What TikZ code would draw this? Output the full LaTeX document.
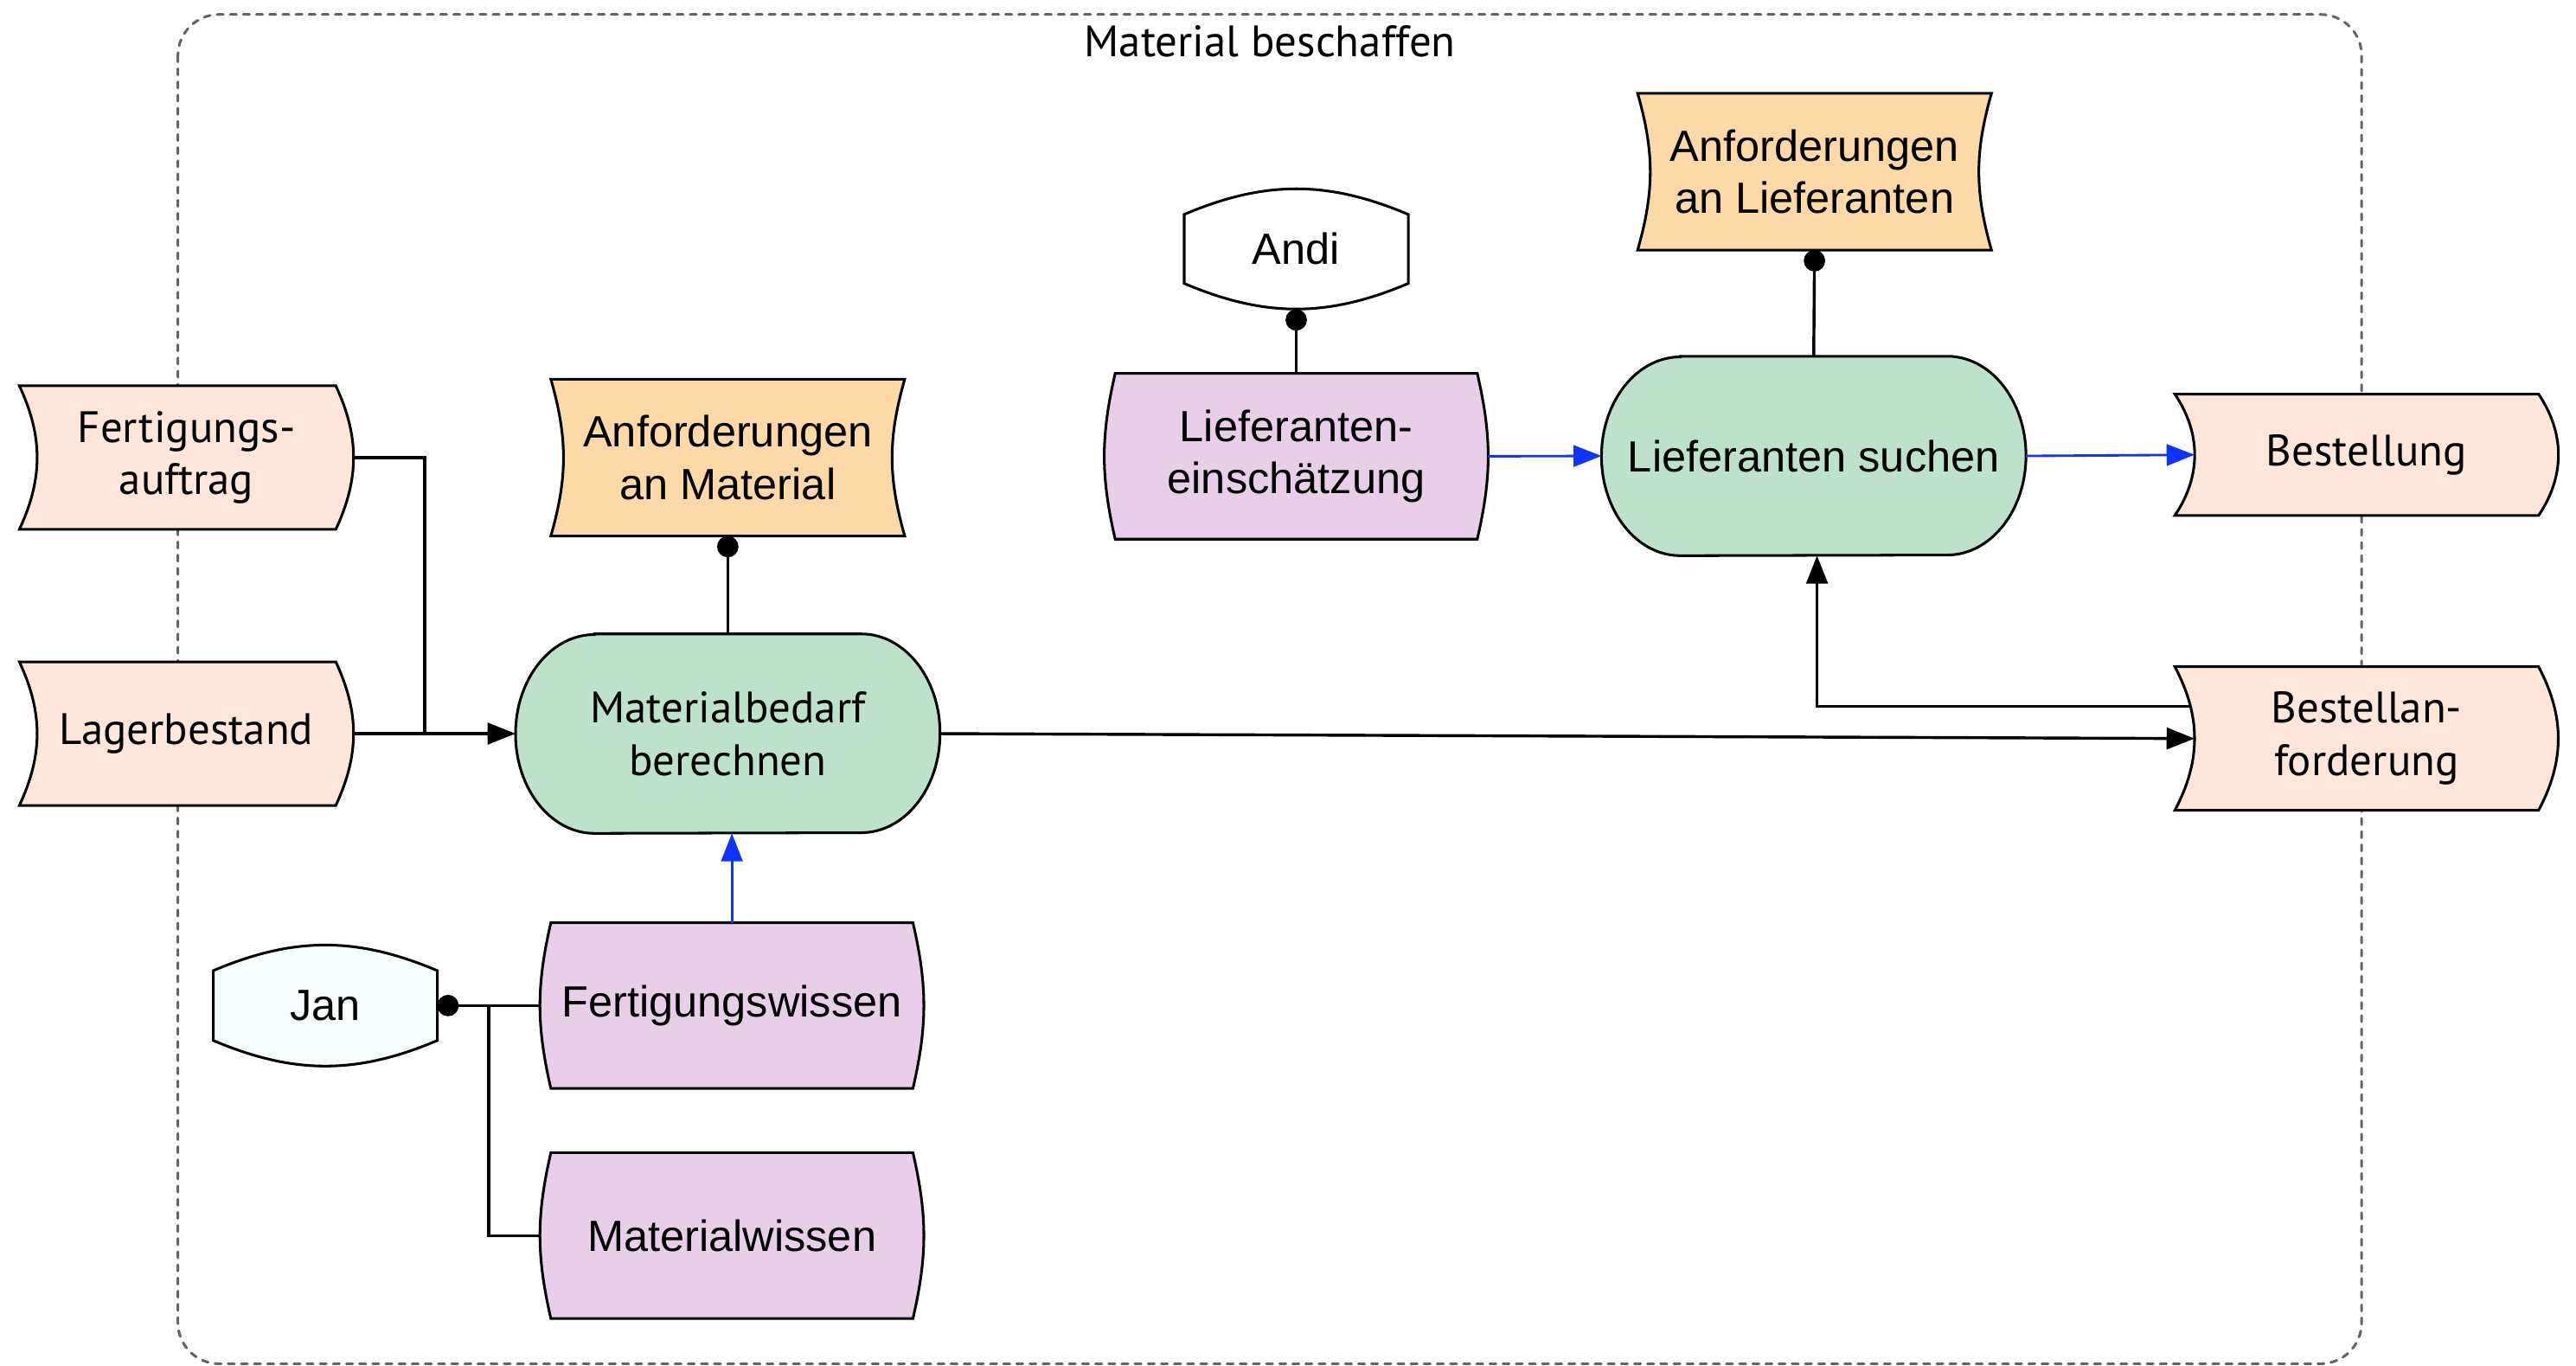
\documentclass[tikz,border=0pt]{standalone}
\usepackage{fontspec}
\setmainfont{Liberation Sans}
\newfontfamily\myriadlike{PT Sans}
\definecolor{datapink}{RGB}{254,230,219}
\definecolor{reqorange}{RGB}{253,217,167}
\definecolor{knowpurple}{RGB}{233,206,234}
\definecolor{funcgreen}{RGB}{189,225,202}
\definecolor{janwhite}{RGB}{247,252,252}
\definecolor{flowblue}{RGB}{16,52,255}
\definecolor{framegray}{RGB}{100,100,100}
\usetikzlibrary{calc}
\usetikzlibrary{arrows.meta}
\usetikzlibrary{backgrounds}

\begin{document}
\begin{tikzpicture}[x=1pt, y=1pt,
  every node/.style={align=center, inner sep=0pt, font=\fontsize{26.6}{32}\selectfont},
  myr/.style={font=\myriadlike\fontsize{26.8}{32}\selectfont},
  shp/.style={draw=black, line width=1.6pt},
  conn/.style={line width=1.8pt},
  arr/.style={-{Triangle[length=17pt,width=13pt]}},
  dot/.style={{Circle[length=13pt]}-},
  flow/.style={flowblue, line width=1.5pt, -{Triangle[length=17pt,width=13pt]}}]
  \useasboundingbox (0,0) rectangle (1568,-831);

  \node [myr] (title) at (773,-25) {Material beschaffen};

  % inputs
  \node [myr, minimum width=203, minimum height=87] (fa) at (113.5,-278.5) {Fertigungs-\\auftrag};
  \node [myr, minimum width=203, minimum height=87] (lb) at (113.5,-446.5) {Lagerbestand};

  % functions
  \node [myr, minimum width=258, minimum height=121] (mb) at (443,-446.5) {Materialbedarf\\berechnen};
  \node [minimum width=258, minimum height=121] (ls) at (1104,-277.5) {Lieferanten suchen};

  % requirements
  \node [minimum width=215, minimum height=95] (am) at (443,-278.5) {Anforderungen\\an Material};
  \node [minimum width=215, minimum height=95] (al) at (1104.5,-104.5) {Anforderungen\\an Lieferanten};

  % knowledge and persons
  \node [minimum width=233, minimum height=100.5] (le) at (789,-277.7) {Lieferanten-\\einschätzung};
  \node [minimum width=233, minimum height=100.5] (fw) at (445.5,-612) {Fertigungswissen};
  \node [minimum width=233, minimum height=100.5] (mw) at (445.5,-752) {Materialwissen};
  \node [minimum width=136, minimum height=73] (andi) at (789,-151.5) {Andi};
  \node [minimum width=136, minimum height=73.5] (jan) at (198,-612) {Jan};

  % outputs
  \node [myr, minimum width=233, minimum height=73.5] (bs) at (1440.5,-276.8) {Bestellung};
  \node [myr, minimum width=233, minimum height=87] (ba) at (1440.5,-449.5) {Bestellan-\\forderung};

  \begin{scope}[on background layer]
    \draw [framegray, line width=1.6pt, line cap=round, dash pattern=on 3.8pt off 4.2pt, rounded corners=25]
      (108.3,-8.8) rectangle (1437.5,-830);
    \foreach \n/\s/\a in {fa/10.8/25, lb/10.8/25, bs/12/34, ba/12/28}
      \filldraw [shp, fill=datapink] (\n.north west) -- ($(\n.north east)+(-\s,0)$)
        to [bend left=\a] ($(\n.south east)+(-\s,0)$) -- (\n.south west)
        to [bend right=\a] (\n.north west) -- cycle;
    \foreach \n in {am, al}
      \filldraw [shp, fill=reqorange] (\n.north west) -- (\n.north east)
        to [bend right=16] (\n.south east) -- (\n.south west)
        to [bend right=16] (\n.north west) -- cycle;
    \foreach \n in {le, fw, mw}
      \filldraw [shp, fill=knowpurple] ($(\n.north west)+(6.5,0)$) -- ($(\n.north east)+(-6.5,0)$)
        to [bend left=13] ($(\n.south east)+(-6.5,0)$) -- ($(\n.south west)+(6.5,0)$)
        to [bend left=13] ($(\n.north west)+(6.5,0)$) -- cycle;
    \foreach \n/\c in {andi/white, jan/janwhite}
      \filldraw [shp, fill=\c] ($(\n.north west)+(0,-15.7)$)
        to [bend left=23] ($(\n.north east)+(0,-15.7)$) -- ($(\n.south east)+(0,15.7)$)
        to [bend left=23] ($(\n.south west)+(0,15.7)$) -- cycle;
    \foreach \n in {mb, ls}
      \filldraw [shp, fill=funcgreen] ($(\n.north west)+(48,0)$) -- ($(\n.north east)+(-48,0)$)
        arc [start angle=90, end angle=-90, x radius=48, y radius=60.5]
        -- ($(\n.south west)+(48,0)$)
        arc [start angle=270, end angle=90, x radius=48, y radius=60.5] -- cycle;
  \end{scope}

  % connectors
  \coordinate (join) at ($(lb.east)!0.44!(mb.west)$);
  \draw [conn] (fa.east) -| (join);
  \draw [conn, arr] (lb.east) -- (mb.west);
  \draw [conn, dot] (am.south) -- (mb.north);
  \draw [flow] (fw.north) -- (fw.north |- mb.south);
  \draw [conn, dot] (jan.east) -- (fw.west);
  \coordinate (branch) at ($(jan.east)!0.5!(fw.west)$);
  \draw [conn] (branch) |- (mw.west);
  \draw [conn, arr] (mb.east) -- ($(ba.west)+(12,0)$);
  \coordinate (baout) at ($(ba.west)+(9.6,19.5)$);
  \draw [conn, arr] (baout) -| ([xshift=2pt]ls.south);
  \draw [conn, dot] (andi.south) -- (le.north);
  \draw [flow] (le.east) -- (ls.west);
  \draw [conn, dot] (al.south) -- (ls.north);
  \draw [flow] (ls.east) -- ($(bs.west)+(12,0)$);

\end{tikzpicture}
\end{document}
